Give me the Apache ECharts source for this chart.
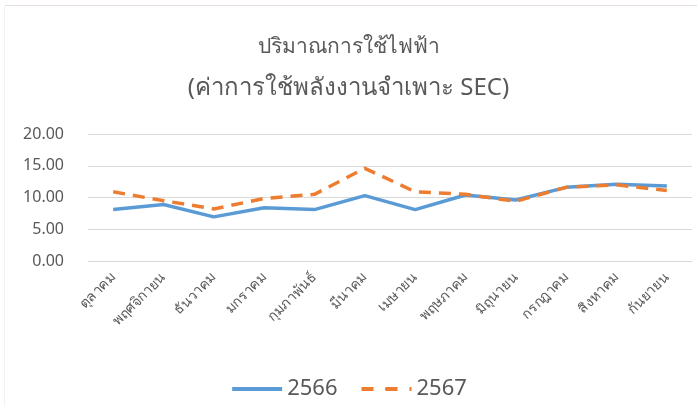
<!DOCTYPE html>
<html>
<head>
<meta charset="utf-8">
<script src="https://cdn.jsdelivr.net/npm/echarts@6/dist/echarts.min.js"></script>
<style>
  html, body { margin: 0; padding: 0; background: #fff; }
  #main { width: 697px; height: 406px; }
</style>
</head>
<body>
<div id="main"></div>
<script>
var months = ['ตุลาคม', 'พฤศจิกายน', 'ธันวาคม', 'มกราคม', 'กุมภาพันธ์', 'มีนาคม',
              'เมษายน', 'พฤษภาคม', 'มิถุนายน', 'กรกฎาคม', 'สิงหาคม', 'กันยายน'];
var sec2566 = [8.1, 8.9, 6.95, 8.4, 8.1, 10.3, 8.1, 10.4, 9.6, 11.6, 12.1, 11.8];
var sec2567 = [10.9, 9.5, 8.2, 9.85, 10.5, 14.6, 10.9, 10.5, 9.4, 11.6, 12.0, 11.1];

var fontFamily = '"Noto Sans", "DejaVu Sans", sans-serif';

var chart = echarts.init(document.getElementById('main'));
var option = {
    backgroundColor: '#fff',
    textStyle: { fontFamily: fontFamily },
    title: [
        {
            text: 'ปริมาณการใช้ไฟฟ้า',
            left: 'center',
            top: 32,
            textStyle: { color: '#595959', fontSize: 21, fontWeight: 'normal', fontFamily: fontFamily }
        },
        {
            text: '(ค่าการใช้พลังงานจำเพาะ SEC)',
            left: 'center',
            top: 71,
            textStyle: { color: '#595959', fontSize: 24, fontWeight: 'normal', fontFamily: fontFamily }
        }
    ],
    graphic: [
        { type: 'line', shape: { x1: 4, y1: 5.5, x2: 697, y2: 5.5 }, style: { stroke: '#e8dede', lineWidth: 1 } },
        { type: 'line', shape: { x1: 4.5, y1: 5, x2: 4.5, y2: 406 }, style: { stroke: '#f2f2f2', lineWidth: 1 } }
    ],
    legend: {
        top: 373,
        left: 'center',
        itemWidth: 50,
        itemHeight: 4,
        itemGap: 22,
        textStyle: { color: '#595959', fontSize: 22 },
        data: [
            { name: '2566', lineStyle: { width: 4 } },
            { name: '2567', lineStyle: { width: 4, type: [12, 12] } }
        ]
    },
    grid: {
        left: 88,
        right: 5,
        top: 134,
        bottom: 145
    },
    xAxis: {
        type: 'category',
        data: months,
        axisLine: { lineStyle: { color: '#d9d9d9' } },
        axisTick: { show: false },
        axisLabel: {
            rotate: 45,
            color: '#595959',
            fontSize: 14,
            margin: 14,
            interval: 0
        }
    },
    yAxis: {
        type: 'value',
        min: 0,
        max: 20,
        interval: 5,
        axisLine: { show: false },
        axisTick: { show: false },
        axisLabel: {
            color: '#595959',
            fontSize: 16,
            margin: 24,
            formatter: function (v) { return v.toFixed(2); }
        },
        splitLine: { lineStyle: { color: '#d9d9d9' } }
    },
    series: [
        {
            name: '2566',
            type: 'line',
            data: sec2566,
            symbol: 'none',
            color: '#5b9bd5',
            lineStyle: { width: 3.5, color: '#5b9bd5' }
        },
        {
            name: '2567',
            type: 'line',
            data: sec2567,
            symbol: 'none',
            color: '#ed7d31',
            lineStyle: { width: 3.5, color: '#ed7d31', type: [12, 8] }
        }
    ]
};
chart.setOption(option);
</script>
</body>
</html>
